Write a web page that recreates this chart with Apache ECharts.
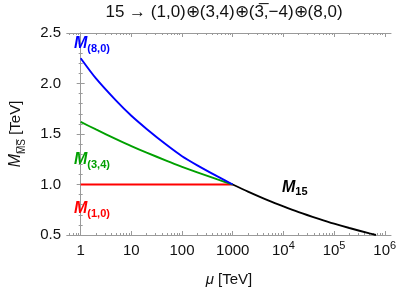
<!DOCTYPE html>
<html><head><meta charset="utf-8">
<script src="https://cdn.jsdelivr.net/npm/echarts@6/dist/echarts.min.js"></script>
<style>html,body{margin:0;padding:0;background:#fff}#c{width:399px;height:292px}</style>
</head><body><div id="c"></div>
<script>
// data (mu in TeV, mass in TeV)
const muLow = [1, 2, 5, 10, 20, 50, 100, 200, 500, 1000];
const valM80 = [2.25, 2.05, 1.83, 1.68, 1.55, 1.39, 1.28, 1.19, 1.08, 1.00];
const valM34 = [1.62, 1.545, 1.45, 1.38, 1.315, 1.235, 1.175, 1.12, 1.05, 1.00];
const muM10 = [1, 1000];
const valM10 = [1.0, 1.0];
const muM15 = [1000, 2000, 5000, 1e4, 2e4, 5e4, 1e5, 2e5, 5e5, 6.7e5];
const valM15 = [1.0, 0.93, 0.843, 0.783, 0.727, 0.66, 0.612, 0.569, 0.516, 0.50];
const xTickExps = [0, 1, 2, 3, 4, 5, 6];
const xTickLabels = ['{b|1}', '{b|10}', '{b|100}', '{b|1000}', '{b|10}{s|4}', '{b|10}{s|5}', '{b|10}{s|6}'];
const yTickLabels = ['0.5', '1.0', '1.5', '2.0', '2.5'];

const XMIN = -0.27, XMAX = 6.12;
const FRAME = '#9a9a9a';
const FONT = 'Liberation Sans';

const minorExps = [];
for (let n = -1; n <= 6; n++) for (let k = 2; k <= 9; k++) {
  const e = n + Math.log10(k);
  if (e > XMIN && e < XMAX) minorExps.push(e);
}
const pts = (mu, v) => mu.map((m, i) => [Math.log10(m), v[i]]);

function xAx(pos, custom, len, labels) {
  return {
    type: 'value', position: pos, min: XMIN, max: XMAX,
    axisLine: {show: true, lineStyle: {color: FRAME, width: 1}},
    splitLine: {show: false},
    axisTick: {show: true, inside: true, length: len, customValues: custom, lineStyle: {color: FRAME}},
    axisLabel: labels ? {
      show: true, customValues: xTickExps, margin: 5, color: '#111', fontSize: 15, fontFamily: FONT,
      formatter: v => xTickLabels[xTickExps.indexOf(Math.round(v))],
      rich: {
        b: {fontSize: 15, fontFamily: FONT, color: '#111', lineHeight: 22},
        s: {fontSize: 11, fontFamily: FONT, color: '#111', verticalAlign: 'top', lineHeight: 22}
      }
    } : {show: false},
    name: labels ? '{i|μ} [TeV]' : '',
    nameLocation: 'middle', nameGap: 37,
    nameTextStyle: {fontSize: 15, fontFamily: FONT, color: '#111', rich: {i: {fontStyle: 'italic', fontSize: 15, fontFamily: FONT, color: '#111'}}}
  };
}
function yAx(pos, labels) {
  return {
    type: 'value', position: pos, min: 0.5, max: 2.5, interval: 0.5,
    axisLine: {show: true, lineStyle: {color: FRAME, width: 1}},
    splitLine: {show: false},
    axisTick: {show: true, inside: true, length: 4, lineStyle: {color: FRAME}},
    minorTick: {show: true, splitNumber: 5, length: 2, lineStyle: {color: FRAME}},
    axisLabel: labels ? {show: true, margin: 6, color: '#111', fontSize: 15, fontFamily: FONT,
      formatter: v => yTickLabels[Math.round((v - 0.5) / 0.5)]} : {show: false},
    name: labels ? '{m|M}{s|M\u0305S\u0305} [TeV]' : '',
    nameLocation: 'middle', nameGap: 40,
    nameTextStyle: {fontSize: 15, fontFamily: FONT, color: '#111',
      rich: {m: {fontStyle: 'italic', fontSize: 16, fontFamily: FONT, color: '#111'},
             s: {fontSize: 10, fontFamily: FONT, color: '#111', verticalAlign: 'bottom', lineHeight: 22}}}
  };
}
function lab(x, y, main, sub, color) {
  return {type: 'text', x: x, y: y, z: 100, style: {
    text: '{m|' + main + '}{s|' + sub + '}',
    rich: {
      m: {fontSize: 16, fontWeight: 'bold', fontStyle: 'italic', fontFamily: FONT, fill: color, lineHeight: 16},
      s: {fontSize: 11, fontWeight: 'bold', fontFamily: FONT, fill: color, verticalAlign: 'bottom', lineHeight: 20}
    }}};
}
function line(data, color) {
  return {type: 'line', data: data, showSymbol: false, smooth: 0.25, silent: true,
    lineStyle: {color: color, width: 1.9}, itemStyle: {color: color}, xAxisIndex: 0, yAxisIndex: 0};
}

const chart = echarts.init(document.getElementById('c'), null, {renderer: 'canvas'});
chart.setOption({
  animation: false,
  backgroundColor: '#fff',
  grid: {left: 58, right: 7, top: 33, bottom: 54},
  xAxis: [
    xAx('bottom', xTickExps, 4, true),
    xAx('bottom', minorExps, 2, false),
    xAx('top', xTickExps, 4, false),
    xAx('top', minorExps, 2, false)
  ],
  yAxis: [yAx('left', true), yAx('right', false)],
  series: [
    line(pts(muM10, valM10), '#ff0000'),
    line(pts(muLow, valM34), '#00a000'),
    line(pts(muLow, valM80), '#0000ff'),
    line(pts(muM15, valM15), '#000000')
  ],
  graphic: [
    {type: 'text', x: 224, y: 4, style: {text: '15 \u2192 (1,0)\u2295(3,4)\u2295(3\u0305,\u22124)\u2295(8,0)',
      fontSize: 17, fontFamily: FONT, fill: '#111', textAlign: 'center'}},
    lab(74, 34, 'M', '(8,0)', '#0000ff'),
    lab(74, 150, 'M', '(3,4)', '#00a000'),
    lab(74, 199, 'M', '(1,0)', '#ff0000'),
    lab(282, 177.5, 'M', '15', '#000000')
  ]
});
</script></body></html>
